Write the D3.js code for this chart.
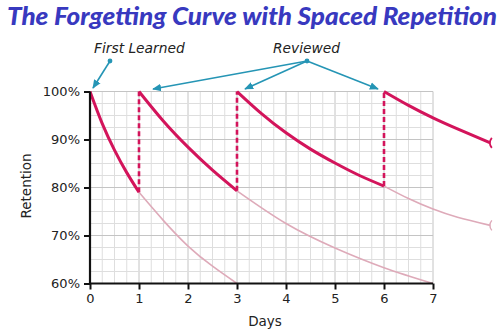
<!DOCTYPE html>
<html>
<head>
<meta charset="utf-8">
<script src="https://cdn.jsdelivr.net/npm/d3@7"></script>
<style>
  html, body { margin: 0; padding: 0; background: #fff; }
  svg { display: block; }
</style>
</head>
<body>
<svg id="chart" width="501" height="335"></svg>
<script>
// Axis ticks
const dayTicks = [0, 1, 2, 3, 4, 5, 6, 7];
const retentionTicks = [60, 70, 80, 90, 100];

// Memory curves: days and retention (%)
const learnedDays = [0, 0.25, 0.5, 0.75, 1];
const learnedRet = [100, 93.3, 87.8, 83.1, 79];
const learnedFadeDays = [1, 1.5, 2, 2.5, 3];
const learnedFadeRet = [79, 73.1, 67.8, 63.6, 60];

const review1Days = [1, 1.5, 2, 2.5, 3];
const review1Ret = [100, 93.8, 88.4, 83.6, 79.3];
const review1FadeDays = [3, 4, 5, 6, 7];
const review1FadeRet = [79.3, 72.5, 67.4, 63.3, 60];

const review2Days = [3, 3.5, 4, 4.5, 5, 5.5, 6];
const review2Ret = [100, 95.4, 91.4, 88.0, 85.1, 82.5, 80.3];
const review2FadeDays = [6, 6.5, 7, 7.5, 8.17];
const review2FadeRet = [80.3, 77.7, 75.5, 73.8, 72.1];

const review3Days = [6, 6.5, 7, 7.5, 8.17];
const review3Ret = [100, 97.1, 94.5, 92.2, 89.3];

// Review moments: day and retention just before the review
const reviewDays = [1, 3, 6];
const reviewFrom = [79, 79.3, 80.3];

const svg = d3.select("#chart");
const x = d3.scaleLinear().domain([0, 7]).range([90, 433]);
const y = d3.scaleLinear().domain([60, 100]).range([283.5, 91.5]);

const RED = "#d3145b";
const PINK = "#deaab9";
const TEAL = "#2595b5";

// Title
svg.append("text")
  .attr("x", 252).attr("y", 25)
  .attr("text-anchor", "middle")
  .attr("font-family", "Lato, 'Open Sans', sans-serif")
  .attr("font-style", "italic").attr("font-weight", 900)
  .attr("font-size", 25)
  .attr("fill", "#3839bf")
  .attr("textLength", 490).attr("lengthAdjust", "spacingAndGlyphs")
  .text("The Forgetting Curve with Spaced Repetition");

// Grid
const g = svg.append("g");
const minorX = d3.range(0, 7.001, 0.25);
const minorY = d3.range(60, 100.001, 2.5);
g.selectAll(".vx").data(minorX).join("line")
  .attr("x1", d => x(d)).attr("x2", d => x(d))
  .attr("y1", y(100)).attr("y2", y(60))
  .attr("stroke", d => Number.isInteger(d) ? "#c4c4c4" : "#dedede")
  .attr("stroke-width", 1);
g.selectAll(".hy").data(minorY).join("line")
  .attr("y1", d => y(d)).attr("y2", d => y(d))
  .attr("x1", x(0)).attr("x2", x(7))
  .attr("stroke", d => d % 10 === 0 ? "#c4c4c4" : "#dedede")
  .attr("stroke-width", 1);

// Curves
const line = d3.line().x(d => x(d[0])).y(d => y(d[1])).curve(d3.curveNatural);
const pairs = (ds, rs) => ds.map((d, i) => [d, rs[i]]);

const fades = [
  pairs(learnedFadeDays, learnedFadeRet),
  pairs(review1FadeDays, review1FadeRet),
  pairs(review2FadeDays, review2FadeRet)
];
svg.selectAll(".fade").data(fades).join("path")
  .attr("d", line).attr("fill", "none")
  .attr("stroke", PINK).attr("stroke-width", 1.6);

const bolds = [
  pairs(learnedDays, learnedRet),
  pairs(review1Days, review1Ret),
  pairs(review2Days, review2Ret),
  pairs(review3Days, review3Ret)
];
svg.selectAll(".bold").data(bolds).join("path")
  .attr("d", line).attr("fill", "none")
  .attr("stroke", RED).attr("stroke-width", 3)
  .attr("stroke-linejoin", "round");

// Dashed review jumps
svg.selectAll(".jump").data(reviewDays).join("line")
  .attr("x1", d => x(d)).attr("x2", d => x(d))
  .attr("y1", (d, i) => y(reviewFrom[i])).attr("y2", y(100))
  .attr("stroke", RED).attr("stroke-width", 2.6)
  .attr("stroke-dasharray", "5,3");

// Small end caps on curves that run past day 7
const ends = [
  { d: review2FadeDays[review2FadeDays.length - 1], r: review2FadeRet[review2FadeRet.length - 1], c: PINK, w: 1.4 },
  { d: review3Days[review3Days.length - 1], r: review3Ret[review3Ret.length - 1], c: RED, w: 1.8 }
];
svg.selectAll(".cap").data(ends).join("path")
  .attr("d", e => {
    const cx = x(e.d), cy = y(e.r);
    return `M${cx + 1.5},${cy - 5} Q${cx - 2.5},${cy} ${cx + 1.5},${cy + 5}`;
  })
  .attr("fill", "none").attr("stroke", e => e.c).attr("stroke-width", e => e.w);

// Axes
const xAxis = d3.axisBottom(x).tickValues(dayTicks).tickSize(6).tickPadding(4).tickFormat(d3.format("d"));
const yAxis = d3.axisLeft(y).tickValues(retentionTicks).tickSize(6).tickPadding(4).tickFormat(d => d + "%");

const gx = svg.append("g").attr("transform", `translate(0,${y(60)})`).call(xAxis);
const gy = svg.append("g").attr("transform", `translate(${x(0)},0)`).call(yAxis);
[gx, gy].forEach(a => {
  a.select(".domain").attr("stroke", "#111").attr("stroke-width", 2.2);
  a.selectAll(".tick line").attr("stroke", "#111").attr("stroke-width", 2);
  a.selectAll(".tick text")
    .attr("font-family", "'DejaVu Sans', Verdana, sans-serif")
    .attr("font-size", 13).attr("fill", "#222");
});
gx.select(".domain").attr("d", `M${x(0)},0H${x(7)}`);
gy.select(".domain").attr("d", `M0,${y(60)}V${y(100)}`);

// Axis titles
svg.append("text")
  .attr("x", 265).attr("y", 326).attr("text-anchor", "middle")
  .attr("font-family", "'DejaVu Sans', Verdana, sans-serif")
  .attr("font-size", 13.5).attr("fill", "#222")
  .text("Days");
svg.append("text")
  .attr("transform", "translate(31,186) rotate(-90)")
  .attr("text-anchor", "middle")
  .attr("font-family", "'DejaVu Sans', Verdana, sans-serif")
  .attr("font-size", 13.5).attr("fill", "#222")
  .text("Retention");

// Annotations
const defs = svg.append("defs");
defs.append("marker")
  .attr("id", "arrow").attr("viewBox", "0 0 10 10")
  .attr("refX", 9).attr("refY", 5)
  .attr("markerWidth", 9).attr("markerHeight", 9)
  .attr("markerUnits", "userSpaceOnUse")
  .attr("orient", "auto")
  .append("path").attr("d", "M0,0.8L10,5L0,9.2Z").attr("fill", TEAL);

const annoFont = "'DejaVu Sans', Verdana, sans-serif";
svg.append("text")
  .attr("x", 94).attr("y", 53)
  .attr("font-family", annoFont).attr("font-style", "italic")
  .attr("font-size", 13.8).attr("fill", "#222")
  .text("First Learned");
svg.append("text")
  .attr("x", 273).attr("y", 53)
  .attr("font-family", annoFont).attr("font-style", "italic")
  .attr("font-size", 13.8).attr("fill", "#222")
  .text("Reviewed");

const firstFrom = [110, 61];
const firstTo = [93, 88];
const reviewedFrom = [307, 61];
const reviewedTargets = [[153, 89], [245, 89], [378, 89]];

svg.append("line")
  .attr("x1", firstFrom[0]).attr("y1", firstFrom[1])
  .attr("x2", firstTo[0]).attr("y2", firstTo[1])
  .attr("stroke", TEAL).attr("stroke-width", 1.6)
  .attr("marker-end", "url(#arrow)");
svg.append("circle").attr("cx", firstFrom[0]).attr("cy", firstFrom[1]).attr("r", 2.4).attr("fill", TEAL);

svg.selectAll(".rev").data(reviewedTargets).join("line")
  .attr("x1", reviewedFrom[0]).attr("y1", reviewedFrom[1])
  .attr("x2", d => d[0]).attr("y2", d => d[1])
  .attr("stroke", TEAL).attr("stroke-width", 1.6)
  .attr("marker-end", "url(#arrow)");
svg.append("circle").attr("cx", reviewedFrom[0]).attr("cy", reviewedFrom[1]).attr("r", 2.4).attr("fill", TEAL);
</script>
</body>
</html>
